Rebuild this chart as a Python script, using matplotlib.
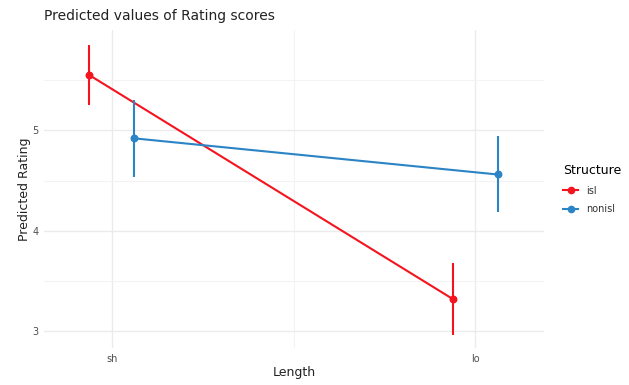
import matplotlib.pyplot as plt
from matplotlib.lines import Line2D
import numpy as np

# data
lengths = ['sh', 'lo']
structures = ['isl', 'nonisl']
predicted = {'isl': [5.55, 3.32], 'nonisl': [4.92, 4.56]}
ci_low = {'isl': [5.25, 2.96], 'nonisl': [4.53, 4.19]}
ci_high = {'isl': [5.85, 3.68], 'nonisl': [5.30, 4.94]}
colors = {'isl': '#F5141E', 'nonisl': '#2B84C6'}
dodge = {'isl': -0.062, 'nonisl': 0.062}

fig = plt.figure(figsize=(6.29, 3.85), dpi=100)
ax = fig.add_axes([0.070, 0.096, 0.795, 0.826])

xpos = np.arange(1, len(lengths) + 1)
for s in structures:
    x = xpos + dodge[s]
    y = np.array(predicted[s])
    ax.plot(x, y, color=colors[s], lw=1.5, zorder=3)
    ax.vlines(x, ci_low[s], ci_high[s], color=colors[s], lw=1.5, zorder=3)
    ax.scatter(x, y, color=colors[s], s=22, zorder=4)

ax.set_xlim(0.813, 2.19)
ax.set_ylim(2.83, 6.0)
ax.set_xticks(xpos)
ax.set_xticklabels(lengths)
ax.set_yticks([3, 4, 5])
ax.set_xticks([1.5], minor=True)
ax.set_yticks([3.5, 4.5, 5.5], minor=True)
ax.grid(True, which='major', color='#ebebeb', lw=1.0)
ax.grid(True, which='minor', color='#f3f3f3', lw=0.8)
ax.set_axisbelow(True)
for sp in ax.spines.values():
    sp.set_visible(False)
ax.tick_params(which='both', length=0, labelsize=7, labelcolor='#4d4d4d', pad=4)

ax.set_xlabel('Length', fontsize=9, color='#222222', labelpad=2)
ax.set_ylabel('Predicted Rating', fontsize=9, color='#222222', labelpad=1)
# title aligned with the panel's left edge
ax.set_title('Predicted values of Rating scores', fontsize=10, color='#222222',
             loc='left', pad=7)

handles = [Line2D([0], [0], color=colors[s], lw=1.5, marker='o', markersize=4.5)
           for s in structures]
leg = fig.legend(handles, structures, title='Structure', loc='upper left',
                 bbox_to_anchor=(554 / 629, 1 - 155 / 385), frameon=False,
                 fontsize=7, title_fontsize=9, handlelength=1.6,
                 labelspacing=0.9, alignment='left')
for t in leg.get_texts():
    t.set_color('#333333')

plt.savefig('out.png', dpi=100)
